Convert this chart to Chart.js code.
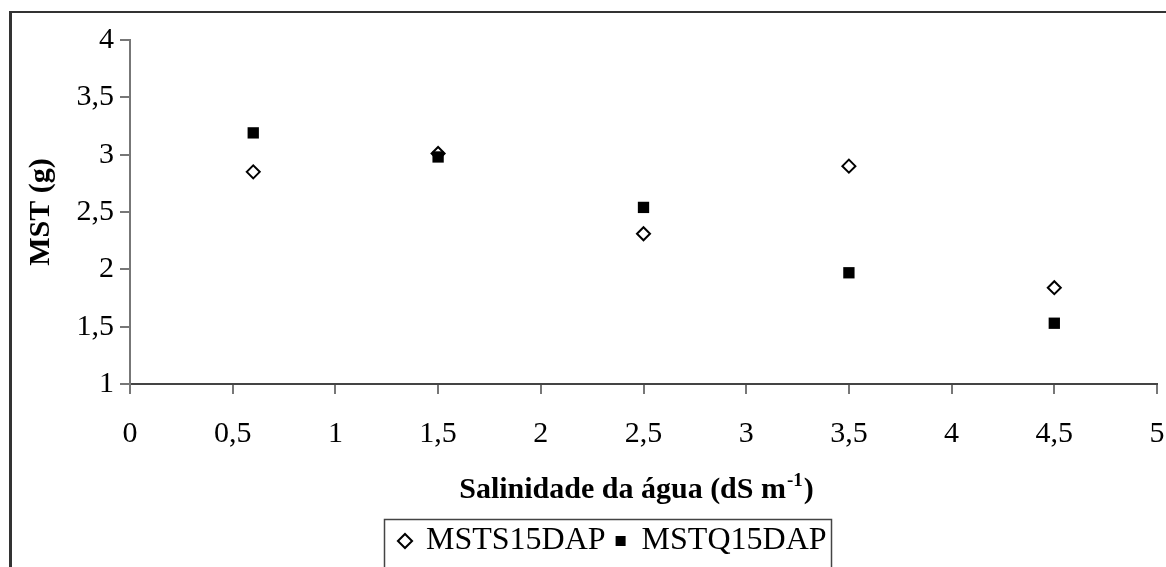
<!DOCTYPE html>
<html><head><meta charset="utf-8">
<script src="https://cdn.jsdelivr.net/npm/chart.js@4"></script>
<style>html,body{margin:0;padding:0;background:#fff;overflow:hidden}#wrap{position:relative;width:1166px;height:567px}</style>
</head><body><div id="wrap"><canvas id="c" width="1166" height="567"></canvas></div>
<script>
const salinity = [0.6, 1.5, 2.5, 3.5, 4.5];
const msts15dap = [2.85, 3.01, 2.31, 2.90, 1.84];
const mstq15dap = [3.19, 2.98, 2.54, 1.97, 1.53];
const xTickLabels = ['0','0,5','1','1,5','2','2,5','3','3,5','4','4,5','5'];
const yTickLabels = ['1','1,5','2','2,5','3','3,5','4'];
const seriesNames = ['MSTS15DAP','MSTQ15DAP'];
const xTitleParts = ['Salinidade da água (dS m', '-1', ')'];
const yTitle = 'MST (g)';

const FONT = 'Liberation Serif, Times New Roman, serif';

const framePlugin = {
  id: 'frame',
  beforeDraw(chart) {
    const ctx = chart.ctx;
    ctx.save();
    ctx.fillStyle = '#fff';
    ctx.fillRect(0, 0, chart.width, chart.height);
    ctx.fillStyle = '#333';
    ctx.fillRect(9, 11, chart.width - 9, 2);
    ctx.fillRect(9, 11, 3, chart.height - 11);
    ctx.restore();
  },
  afterLayout(chart) {
    const lg = chart.legend;
    if (!lg || !lg.lineWidths) return;
    const pad = lg.options.labels.padding;
    const start = (lg.left + pad + lg.right - lg.lineWidths[0]) / 2;
    const dx = 400 - start;
    lg.left += dx; lg.right += dx;
  },
  afterDraw(chart) {
    const ctx = chart.ctx;
    // legend frame
    const lg = chart.legend;
    if (lg && lg.legendHitBoxes && lg.legendHitBoxes.length) {
      const hb = lg.legendHitBoxes;
      const first = hb[0], last = hb[hb.length - 1];
      ctx.save();
      ctx.strokeStyle = '#444';
      ctx.lineWidth = 1.5;
      const l = Math.round(first.left - 16) + 0.5;
      const r = Math.round(last.left + last.width + 4) + 0.5;
      const t = Math.round(lg.top + 4) + 0.5;
      ctx.strokeRect(l, t, r - l, chart.height + 20 - t);
      ctx.restore();
    }
    // x axis title with superscript
    ctx.save();
    ctx.fillStyle = '#000';
    ctx.textBaseline = 'alphabetic';
    ctx.textAlign = 'left';
    const big = 'bold 30px ' + FONT, small = 'bold 19px ' + FONT;
    ctx.font = big;
    const w0 = ctx.measureText(xTitleParts[0]).width;
    const w2 = ctx.measureText(xTitleParts[2]).width;
    ctx.font = small;
    const w1 = ctx.measureText(xTitleParts[1]).width;
    const total = w0 + 1 + w1 + 1 + w2;
    const cx = (chart.chartArea.left + chart.chartArea.right) / 2 - 7;
    let x = cx - total / 2;
    const base = 498;
    ctx.font = big;
    ctx.fillText(xTitleParts[0], x, base);
    x += w0 + 1;
    ctx.font = small;
    ctx.fillText(xTitleParts[1], x, base - 12);
    x += w1 + 1;
    ctx.font = big;
    ctx.fillText(xTitleParts[2], x, base);
    ctx.restore();
  }
};

const chart = new Chart(document.getElementById('c'), {
  type: 'scatter',
  data: {
    datasets: [
      {
        label: seriesNames[0],
        data: salinity.map((x, i) => ({x, y: msts15dap[i]})),
        pointStyle: 'rectRot',
        pointRadius: 6.5,
        borderWidth: 2,
        borderColor: '#000',
        backgroundColor: '#fff',
        order: 1
      },
      {
        label: seriesNames[1],
        data: salinity.map((x, i) => ({x, y: mstq15dap[i]})),
        pointStyle: 'rect',
        pointRadius: 8,
        borderWidth: 0,
        borderColor: '#000',
        backgroundColor: '#000',
        order: 0
      }
    ]
  },
  options: {
    responsive: false,
    animation: false,
    devicePixelRatio: 1,
    layout: { padding: { top: 40, right: 9, left: 0, bottom: 0 } },
    plugins: {
      tooltip: { enabled: false },
      legend: {
        position: 'bottom',
        labels: {
          usePointStyle: true,
          boxWidth: 10,
          boxHeight: 10,
          padding: 10,
          color: '#000',
          sort: (a, b) => a.datasetIndex - b.datasetIndex,
          font: { family: FONT, size: 32 }
        }
      }
    },
    scales: {
      x: {
        type: 'linear',
        min: 0, max: 5,
        ticks: {
          stepSize: 0.5,
          color: '#000',
          padding: 22,
          maxRotation: 0,
          autoSkip: false,
          font: { family: FONT, size: 30 },
          callback: (v) => xTickLabels[Math.round(v / 0.5)]
        },
        grid: { drawOnChartArea: false, drawTicks: true, tickLength: 10, color: '#777', lineWidth: 2 },
        border: { display: true, color: '#444', width: 2 },
        title: { display: false },
        afterFit(scale) { scale.height = 131; scale.paddingRight = 7; scale.paddingLeft = 7; }
      },
      y: {
        type: 'linear',
        min: 1, max: 4,
        ticks: {
          stepSize: 0.5,
          color: '#000',
          padding: 6,
          font: { family: FONT, size: 30 },
          callback: (v) => yTickLabels[Math.round((v - 1) / 0.5)]
        },
        grid: { drawOnChartArea: false, drawTicks: true, tickLength: 10, color: '#777', lineWidth: 2 },
        border: { display: true, color: '#777', width: 2 },
        title: {
          display: true, text: yTitle, color: '#000',
          font: { family: FONT, size: 30, weight: 'bold' },
          padding: { top: 23, bottom: 0 }
        },
        afterFit(scale) { scale.width = 130; }
      }
    }
  },
  plugins: [framePlugin]
});
</script>
</body></html>
